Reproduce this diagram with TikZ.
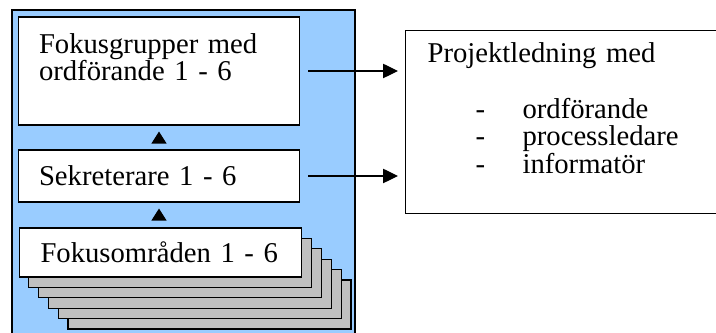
\documentclass[tikz,border=0pt]{standalone}
\usepackage{fontspec}
\setmainfont{Liberation Serif}
\usetikzlibrary{arrows.meta}
\definecolor{panelblue}{RGB}{153,204,255}
\definecolor{lagergraa}{RGB}{192,192,192}

\begin{document}
\begin{tikzpicture}[
    boks/.style={draw=black, fill=white, line width=0.8pt, text width=6cm, inner xsep=0.52cm, inner ysep=0pt, align=left, font={\fontsize{20.4}{19.8}\selectfont}},
    lager/.style={draw=black, fill=lagergraa, line width=0.8pt},
    pil/.style={-{Triangle[length=0.375cm, width=0.36cm]}, line width=0.8pt},
    spets/.style={-{Triangle[length=0.3cm, width=0.375cm]}, line width=0.8pt}]
        \useasboundingbox (0,0) rectangle (17.9,8.325);
        \draw[line width=0.8pt, fill=panelblue] (0.3,-0.3) rectangle (8.875,8.075);
        \foreach \i in {5,4,...,1}
            \draw[lager] (0.475+\i*0.245, 2.625-\i*0.26) rectangle ++(7.075,-1.225);
        \node[boks, minimum height=2.7cm] (fg) at (3.975,6.55) {Fokusgrupper med\\ordförande 1~-~6\\\mbox{}};
        \node[boks, minimum height=1.3cm] (sek) at (3.975,3.925) {Sekreterare 1~-~6};
        \node[boks, minimum height=1.225cm] (fo) at (4.0125,2.0125) {\mbox{Fokusområden 1~-~6}};
        \node[boks, anchor=north west, text width=7.8cm, inner xsep=0.55cm, minimum height=4.575cm] (pl) at (10.125,7.575) {Projektledning med\\
            \mbox{}\\
            \hspace*{1.2cm}\makebox[1.175cm][l]{-}ordförande\\
            \hspace*{1.2cm}\makebox[1.175cm][l]{-}processledare\\
            \hspace*{1.2cm}\makebox[1.175cm][l]{-}informatör\\
            \mbox{}};
        \draw[pil, shorten <=0.2cm, shorten >=0.175cm] (fg.east) -- (fg.east -| pl.west);
        \draw[pil, shorten <=0.2cm, shorten >=0.175cm] (sek.east) -- (sek.east -| pl.west);
        \draw[spets, shorten <=0.175cm, shorten >=0.15cm] (sek.north) -- (fg.south);
        \draw[spets, shorten <=0.2cm, shorten >=0.15cm] (sek.south |- fo.north) -- (sek.south);
    \end{tikzpicture}
\end{document}
